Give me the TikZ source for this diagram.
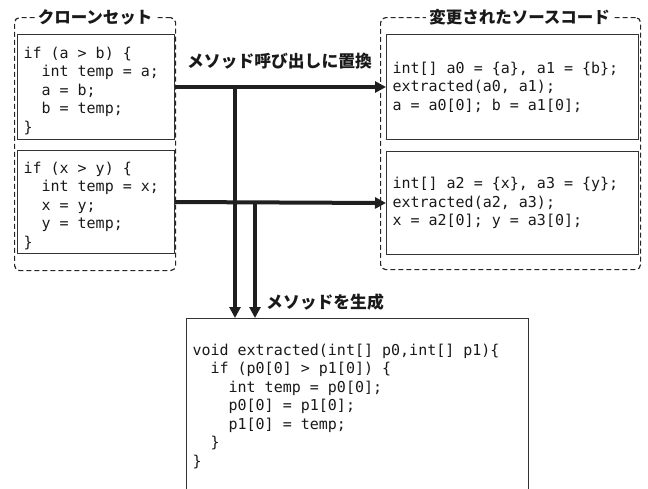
\documentclass[tikz,border=0pt]{standalone}
\usepackage{fontspec}
\setmonofont{DejaVu Sans Mono}[WordSpace={1,0,0}]
\newfontfamily\jp{Noto Sans CJK JP}
\usetikzlibrary{arrows.meta}
\newcommand{\fixsp}{\frenchspacing\spaceskip=0.602em\relax\xspaceskip=0.602em\relax}
\newcommand{\lift}{\rule{0pt}{18.5pt}}
\newcommand{\codefont}{\ttfamily\fontsize{15}{18.5}\selectfont}
\begin{document}
\begin{tikzpicture}[x=1pt,y=-1pt,
  codebox/.style={draw=black!80, line width=1pt, anchor=north west, align=left,
    inner xsep=6pt, inner ysep=0pt, text=black!90, font=\codefont},
  group/.style={draw=black!85, line width=1.2pt, dash pattern=on 5pt off 3pt,
    rounded corners=5pt, anchor=north west, inner sep=0pt},
  grptitle/.style={fill=white, inner xsep=3pt, inner ysep=1pt, text=black!90,
    font=\jp\bfseries\fontsize{16.5}{18}\selectfont},
  lbl/.style={text=black!90, inner sep=1pt, font=\jp\bfseries\fontsize{16.8}{18}\selectfont},
  arr/.style={line width=4pt, draw=black!88, -{Triangle[length=11pt,width=11pt]}}]
\useasboundingbox (0,0) rectangle (648,488);
% groups
\node (grpL) [group, minimum width=161pt, minimum height=253pt] at (14,17) {};
\node (grpR) [group, minimum width=260pt, minimum height=252pt] at (380,17) {};
\node (tL) [grptitle] at (grpL.north) {クローンセット};
\node (tR) [grptitle] at ([xshift=9pt]grpR.north) {変更されたソースコード};
% clone boxes
\node (c1) [codebox, text width=145pt, minimum height=105pt] at (17,34)
 {\fixsp\lift if (a > b) \{\\\hphantom{xx}int temp = a;\\\hphantom{xx}a = b;\\\hphantom{xx}b = temp;\\\}};
\node (c2) [codebox, text width=145pt, minimum height=103pt] at (17,150)
 {\fixsp\lift if (x > y) \{\\\hphantom{xx}int temp = x;\\\hphantom{xx}x = y;\\\hphantom{xx}y = temp;\\\}};
% modified boxes
\node (m1) [codebox, text width=240pt, minimum height=105pt] at (386,34)
 {\fixsp int[] a0 = \{a\}, a1 = \{b\};\\extracted(a0, a1);\\a = a0[0]; b = a1[0];};
\node (m2) [codebox, text width=240pt, minimum height=103pt] at (386,151)
 {\fixsp int[] a2 = \{x\}, a3 = \{y\};\\extracted(a2, a3);\\x = a2[0]; y = a3[0];};
% extracted method
\node (ex) [codebox, text width=330pt, minimum height=176pt] at (186,318)
 {\fixsp void extracted(int[] p0,int[] p1)\{\\\hphantom{xx}if (p0[0] > p1[0]) \{\\\hphantom{xxxx}int temp = p0[0];\\\hphantom{xxxx}p0[0] = p1[0];\\\hphantom{xxxx}p1[0] = temp;\\\hphantom{xx}\}\\\}};
% connectors
\draw[arr] (c1.east) -- (m1.west);
\draw[arr] (c2.east) -- (m2.west);
\coordinate (j1) at (235,86.5);
\coordinate (j2) at (255,201.5);
\draw[arr] (j1) -- (j1 |- ex.north);
\draw[arr] (j2) -- (j2 |- ex.north);
% labels
\node (lr) [lbl] at (279.5,61) {メソッド呼び出しに置換};
\node (lg) [lbl, anchor=west] at (265,302) {メソッドを生成};
\end{tikzpicture}
\end{document}
